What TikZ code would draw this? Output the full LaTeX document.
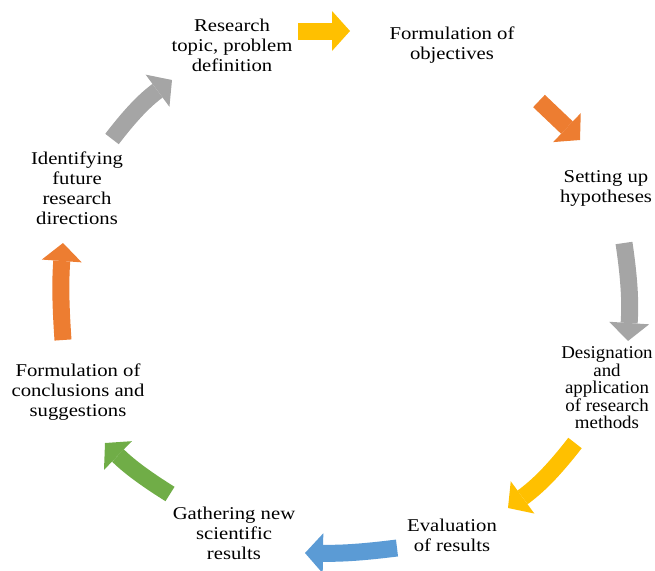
\documentclass[tikz,border=0pt]{standalone}
\usepackage{fontspec}
\setmainfont{Liberation Serif}
\newfontfamily\stagefont[FakeStretch=1.15]{Liberation Serif}
\newfontfamily\narrowstagefont[FakeStretch=1.05]{Liberation Serif}
\usepackage{xcolor}
\usepackage{tikz}
\usetikzlibrary{arrows.meta}
\definecolor{cycgold}{HTML}{FFC000}
\definecolor{cycorange}{HTML}{ED7D31}
\definecolor{cycgray}{HTML}{A5A5A5}
\definecolor{cycblue}{HTML}{5B9BD5}
\definecolor{cycgreen}{HTML}{70AD47}

\begin{document}
\begin{tikzpicture}[
    x=1pt, y=-1pt,
    stage/.style={align=center, inner sep=0pt,
                  font=\stagefont\fontsize{18}{20}\selectfont},
    cyc/.style={line width=17pt,
                -{Triangle[length=18pt, width=40pt, line width=0pt]}}
  ]
    \useasboundingbox (0,0) rectangle (655,570);

    \node[stage] (topic) at (232,45) {Research\\topic, problem\\definition};
    \node[stage] (objectives) at (452,45) {Formulation of\\objectives};
    \node[stage] (hypotheses) at (606,188) {Setting up\\hypotheses};
    \node[stage, font=\narrowstagefont\fontsize{18}{17.5}\selectfont] (methods)
      at (607,388) {Designation\\and\\application\\of research\\methods};
    \node[stage] (evaluation) at (452,535) {Evaluation\\of results};
    \node[stage] (gathering) at (234,533) {Gathering new\\scientific\\results};
    \node[stage] (conclusions) at (78,392)
      {Formulation of\\conclusions and\\suggestions};
    \node[stage] (future) at (77,188)
      {Identifying\\future\\research\\directions};

    \coordinate (a1s) at (298,31);  \coordinate (a1e) at (350,31);
    \coordinate (a2s) at (539,101); \coordinate (a2e) at (580,140);
    \coordinate (a3s) at (624,243); \coordinate (a3e) at (628,341);
    \coordinate (a4s) at (575,443); \coordinate (a4e) at (508,508);
    \coordinate (a5s) at (397,548); \coordinate (a5e) at (305,553);
    \coordinate (a6s) at (170,494); \coordinate (a6e) at (105,443);
    \coordinate (a7s) at (63,340);  \coordinate (a7e) at (63,243);
    \coordinate (a8s) at (112,139); \coordinate (a8e) at (172,80);

    \draw[cyc, cycgold] (a1s) -- (a1e);
    \draw[cyc, cycorange] (a2s) -- (a2e);
    \draw[cyc, cycgray] (a3s) to[bend left=6] (a3e);
    \draw[cyc, cycgold] (a4s) to[bend left=8] (a4e);
    \draw[cyc, cycblue] (a5s) to[bend left=4] (a5e);
    \draw[cyc, cycgreen] (a6s) to[bend left=6] (a6e);
    \draw[cyc, cycorange] (a7s) to[bend left=4] (a7e);
    \draw[cyc, cycgray] (a8s) to[bend left=8] (a8e);
  \end{tikzpicture}
\end{document}
